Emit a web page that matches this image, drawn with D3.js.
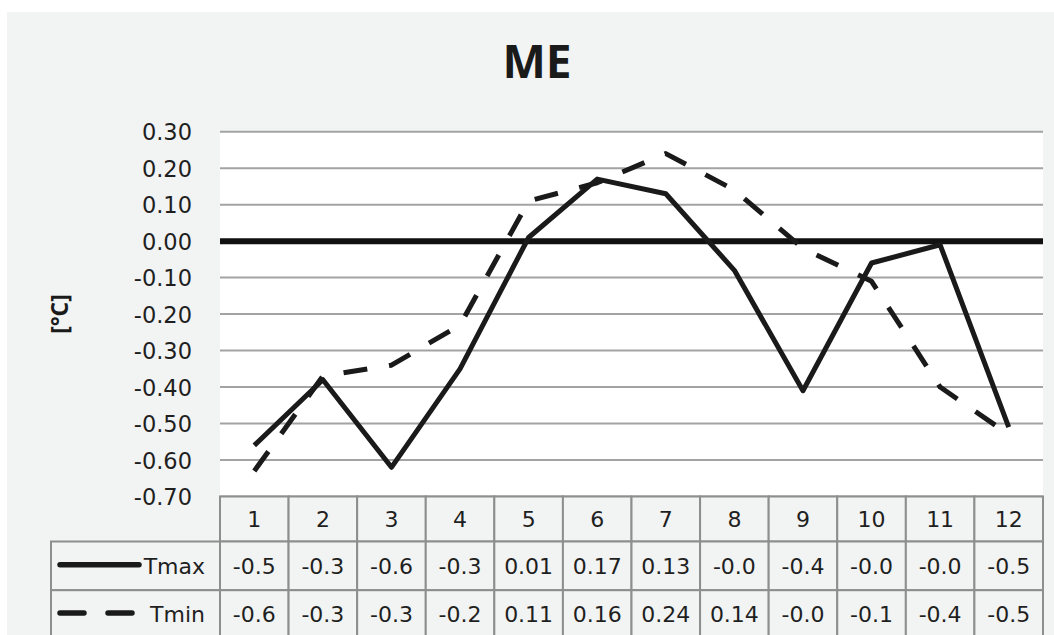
<!DOCTYPE html>
<html>
<head>
<meta charset="utf-8">
<script src="https://cdn.jsdelivr.net/npm/d3@7"></script>
<style>
  html, body { margin: 0; padding: 0; background: #ffffff; }
  svg { display: block; }
</style>
</head>
<body>
<svg id="chart" width="1054" height="635"></svg>
<script>
// Monthly mean error of daily maximum / minimum temperature
const months = ["1", "2", "3", "4", "5", "6", "7", "8", "9", "10", "11", "12"];
const tmax = [-0.56, -0.38, -0.62, -0.35, 0.01, 0.17, 0.13, -0.08, -0.41, -0.06, -0.01, -0.51];
const tmin = [-0.63, -0.37, -0.34, -0.23, 0.11, 0.16, 0.24, 0.14, -0.02, -0.11, -0.40, -0.53];
const yTicks = [0.3, 0.2, 0.1, 0.0, -0.1, -0.2, -0.3, -0.4, -0.5, -0.6, -0.7];
const seriesNames = ["Tmax", "Tmin"];

const svg = d3.select("#chart");
const W = 1054, H = 635;

const plot = { left: 220, right: 1043, top: 131.7, bottom: 496.5 };
const rowEdges = [496.5, 541.5, 590.2, 638];
const legendLeft = 51;

const x = d3.scaleBand().domain(months).range([plot.left, plot.right]).padding(0);
const y = d3.scaleLinear().domain([-0.7, 0.3]).range([plot.bottom, plot.top]);

const gridColor = "#a3a3a3";
const borderColor = "#8e8e8e";
const textColor = "#1f1f1f";
const tableFont = "'DejaVu Sans', Verdana, sans-serif";

// plain hyphen-minus for negative numbers
const locale = d3.formatLocale({ decimal: ".", thousands: ",", grouping: [3], currency: ["", ""], minus: "-" });
const fmt2 = locale.format(".2f");
const fmtCell = v => fmt2(v).slice(0, 4);

// chart panel
svg.append("rect").attr("x", 7).attr("y", 12).attr("width", W - 7).attr("height", H - 12)
  .attr("fill", "#f2f3f3");

// plot area
svg.append("rect").attr("x", plot.left).attr("y", plot.top)
  .attr("width", plot.right - plot.left).attr("height", plot.bottom - plot.top)
  .attr("fill", "#ffffff");

// title
svg.append("text").attr("x", 537).attr("y", 78).attr("text-anchor", "middle")
  .attr("font-family", "'Open Sans', sans-serif").attr("font-weight", 700)
  .attr("font-size", 46).attr("fill", "#1a1a1a").text("ME");

// y axis label
svg.append("text").attr("transform", "translate(68,314) rotate(-90)")
  .attr("text-anchor", "middle")
  .attr("font-family", "'Open Sans', sans-serif").attr("font-weight", 700)
  .attr("font-size", 23).attr("fill", "#1a1a1a").text("[°C]");

// horizontal gridlines
svg.append("g").selectAll("line").data(yTicks).join("line")
  .attr("x1", plot.left).attr("x2", plot.right)
  .attr("y1", d => y(d)).attr("y2", d => y(d))
  .attr("stroke", gridColor).attr("stroke-width", 2);

// y axis tick labels
const yAxis = d3.axisLeft(y).tickValues(yTicks).tickFormat(fmt2).tickSize(0).tickPadding(0);
const gy = svg.append("g").attr("transform", `translate(${plot.left - 28},0)`).call(yAxis);
gy.select(".domain").remove();
gy.selectAll("text")
  .attr("font-family", tableFont).attr("font-size", 22.5).attr("fill", textColor)
  .attr("dy", "0.36em");

// zero reference line
svg.append("line").attr("x1", plot.left).attr("x2", plot.right)
  .attr("y1", y(0)).attr("y2", y(0))
  .attr("stroke", "#111111").attr("stroke-width", 6);

// series lines
const line = d3.line()
  .x((d, i) => x(months[i]) + x.bandwidth() / 2)
  .y(d => y(d));

svg.append("path").datum(tmin).attr("d", line)
  .attr("fill", "none").attr("stroke", "#1a1a1a").attr("stroke-width", 5)
  .attr("stroke-dasharray", "24,22").attr("stroke-linejoin", "round");

svg.append("path").datum(tmax).attr("d", line)
  .attr("fill", "none").attr("stroke", "#1a1a1a").attr("stroke-width", 5)
  .attr("stroke-linejoin", "round");

// data table
const table = svg.append("g");

// header row cells
table.selectAll("rect.head").data(months).join("rect").attr("class", "head")
  .attr("x", d => x(d)).attr("y", rowEdges[0])
  .attr("width", x.bandwidth()).attr("height", rowEdges[1] - rowEdges[0])
  .attr("fill", "#f2f3f3").attr("stroke", borderColor).attr("stroke-width", 2);

table.selectAll("text.head").data(months).join("text").attr("class", "head")
  .attr("x", d => x(d) + x.bandwidth() / 2)
  .attr("y", (rowEdges[0] + rowEdges[1]) / 2 + 8)
  .attr("text-anchor", "middle")
  .attr("font-family", tableFont).attr("font-size", 22).attr("fill", textColor)
  .text(d => d);

// value rows
[tmax, tmin].forEach((vals, r) => {
  const top = rowEdges[r + 1], bot = rowEdges[r + 2];
  const row = table.append("g");
  row.append("rect").attr("x", legendLeft).attr("y", top)
    .attr("width", plot.left - legendLeft).attr("height", bot - top)
    .attr("fill", "#f2f3f3").attr("stroke", borderColor).attr("stroke-width", 2);
  row.selectAll("rect.cell").data(vals).join("rect").attr("class", "cell")
    .attr("x", (d, i) => x(months[i])).attr("y", top)
    .attr("width", x.bandwidth()).attr("height", bot - top)
    .attr("fill", "#f2f3f3").attr("stroke", borderColor).attr("stroke-width", 2);
  row.selectAll("text.cell").data(vals).join("text").attr("class", "cell")
    .attr("x", (d, i) => x(months[i]) + x.bandwidth() / 2)
    .attr("y", (top + bot) / 2 + 8)
    .attr("text-anchor", "middle")
    .attr("font-family", tableFont).attr("font-size", 22).attr("fill", textColor)
    .text(d => fmtCell(d));

  // legend key and series name
  const ky = (top + bot) / 2 - 1;
  const key = row.append("line").attr("x1", 60).attr("x2", 139)
    .attr("y1", ky).attr("y2", ky)
    .attr("stroke", "#1a1a1a").attr("stroke-width", 5.5).attr("stroke-linecap", "round");
  if (r === 1) key.attr("stroke-dasharray", "24,24");
  row.append("text").attr("x", 205).attr("y", (top + bot) / 2 + 8)
    .attr("text-anchor", "end")
    .attr("font-family", tableFont).attr("font-size", 22).attr("fill", textColor)
    .text(seriesNames[r]);
});
</script>
</body>
</html>
